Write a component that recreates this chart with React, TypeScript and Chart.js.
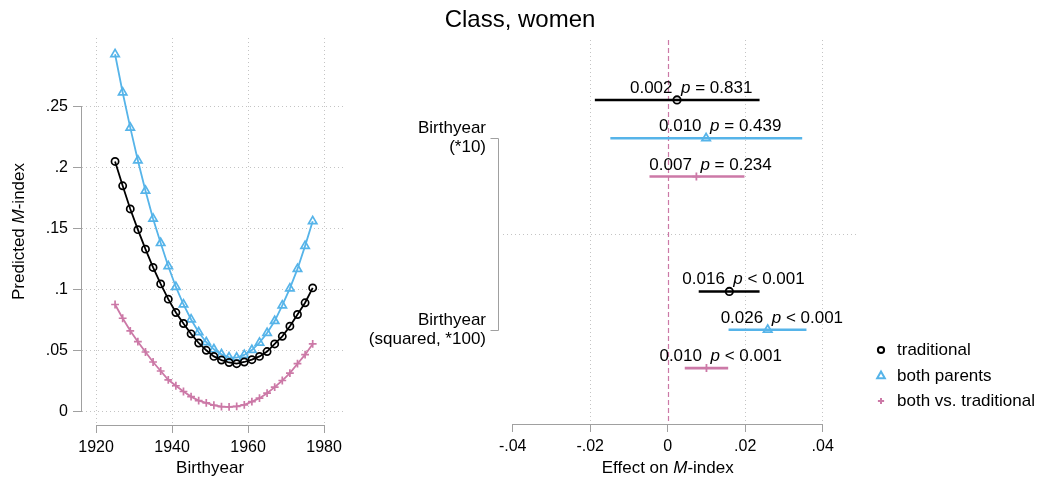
import React, { useEffect, useRef } from 'react';
import { Chart, registerables } from 'chart.js';

Chart.register(...registerables);

const FONT = '"Liberation Sans", Arial, Helvetica, sans-serif';
const BLACK = '#000000';
const BLUE = '#56B4E9';
const PINK = '#CC79A7';
const GRID = '#c4c4c4';
const AXIS = '#a0a0a0';

const chartTitle = 'Class, women';
const seriesNames = ['traditional', 'both parents', 'both vs. traditional'];

// ---- left panel: predicted M-index by birth year ----
const birthYears = [1925, 1927, 1929, 1931, 1933, 1935, 1937, 1939, 1941, 1943, 1945, 1947, 1949, 1951,
  1953, 1955, 1957, 1959, 1961, 1963, 1965, 1967, 1969, 1971, 1973, 1975, 1977];
const predTraditional = [0.205, 0.185, 0.166, 0.149, 0.133, 0.118, 0.1045, 0.092, 0.081, 0.072, 0.0635,
  0.056, 0.05, 0.045, 0.042, 0.04, 0.039, 0.0404, 0.0423, 0.045, 0.049, 0.0552, 0.0615, 0.0698, 0.0794,
  0.089, 0.1012];
const predBothParents = [0.293, 0.2616, 0.2327, 0.2058, 0.181, 0.158, 0.138, 0.119, 0.102, 0.0876, 0.0753,
  0.0648, 0.0566, 0.0508, 0.0467, 0.0442, 0.044, 0.0462, 0.0502, 0.0563, 0.0642, 0.074, 0.0868, 0.1008,
  0.1168, 0.1357, 0.156];
const predBothVsTraditional = [0.0876, 0.0763, 0.066, 0.0571, 0.0486, 0.0404, 0.033, 0.0258, 0.0209, 0.0162,
  0.012, 0.0087, 0.0068, 0.0049, 0.0038, 0.0035, 0.004, 0.0052, 0.0079, 0.0107, 0.0148, 0.0198, 0.0252,
  0.0313, 0.039, 0.0464, 0.0552];
const yearTicks = [1920, 1940, 1960, 1980];
const mIndexTicks = [0, 0.05, 0.1, 0.15, 0.2, 0.25];
const mIndexTickLabels = ['0', '.05', '.1', '.15', '.2', '.25'];

// ---- right panel: coefficients ----
const termLabels = [['Birthyear', '(*10)'], ['Birthyear', '(squared, *100)']];
const termRows = [1, 2];
const effectTicks = [-0.04, -0.02, 0, 0.02, 0.04];
const effectTickLabels = ['-.04', '-.02', '0', '.02', '.04'];

const coefTraditional = [0.0024, 0.0159];
const loTraditional = [-0.0188, 0.008];
const hiTraditional = [0.0237, 0.0237];
const pTraditional = ['= 0.831', '< 0.001'];

const coefBothParents = [0.0099, 0.0258];
const loBothParents = [-0.0148, 0.0157];
const hiBothParents = [0.0347, 0.0358];
const pBothParents = ['= 0.439', '< 0.001'];

const coefBothVsTraditional = [0.0074, 0.0100];
const loBothVsTraditional = [-0.0047, 0.0044];
const hiBothVsTraditional = [0.0198, 0.0156];
const pBothVsTraditional = ['= 0.234', '< 0.001'];

const colors = [BLACK, BLUE, PINK];
const styles = ['circle', 'triangle', 'cross'];
const ROW_OFFSET = [-0.2, 0, 0.2];

function drawMarker(ctx: CanvasRenderingContext2D, style: string, x: number, y: number, r: number, color: string, lw: number) {
  ctx.save();
  ctx.strokeStyle = color;
  ctx.lineWidth = lw;
  ctx.beginPath();
  if (style === 'circle') {
    ctx.arc(x, y, r, 0, Math.PI * 2);
  } else if (style === 'triangle') {
    for (let i = 0; i < 3; i++) {
      const a = (i * 2 * Math.PI) / 3;
      const px = x + Math.sin(a) * r;
      const py = y - Math.cos(a) * r;
      if (i === 0) ctx.moveTo(px, py); else ctx.lineTo(px, py);
    }
    ctx.closePath();
  } else {
    ctx.moveTo(x - r, y); ctx.lineTo(x + r, y);
    ctx.moveTo(x, y - r); ctx.lineTo(x, y + r);
  }
  ctx.stroke();
  ctx.restore();
}

const leftPlugin = {
  id: 'leftDecor',
  afterDraw(chart: any) {
    const { ctx, scales, chartArea } = chart;
    const x = scales.x, y = scales.y;
    ctx.save();
    ctx.strokeStyle = AXIS;
    ctx.lineWidth = 1;
    ctx.beginPath();
    const xb = Math.round(chartArea.bottom) + 0.5;
    ctx.moveTo(x.getPixelForValue(yearTicks[0]), xb);
    ctx.lineTo(x.getPixelForValue(yearTicks[yearTicks.length - 1]), xb);
    const yl = Math.round(chartArea.left) - 0.5;
    ctx.moveTo(yl, y.getPixelForValue(mIndexTicks[0]));
    ctx.lineTo(yl, y.getPixelForValue(mIndexTicks[mIndexTicks.length - 1]));
    ctx.stroke();
    // axis titles
    ctx.fillStyle = '#000';
    ctx.textBaseline = 'middle';
    ctx.font = `17px ${FONT}`;
    ctx.textAlign = 'center';
    ctx.fillText('Birthyear', (x.getPixelForValue(yearTicks[0]) + x.getPixelForValue(yearTicks[3])) / 2, 468);
    // y title with italic M
    ctx.translate(19, (chartArea.top + chartArea.bottom) / 2);
    ctx.rotate(-Math.PI / 2);
    const parts: [string, string][] = [['Predicted ', 'normal'], ['M', 'italic'], ['-index', 'normal']];
    let total = 0;
    for (const [t, s] of parts) { ctx.font = `${s} 17px ${FONT}`; total += ctx.measureText(t).width; }
    let cx = -total / 2;
    ctx.textAlign = 'left';
    for (const [t, s] of parts) {
      ctx.font = `${s} 17px ${FONT}`;
      ctx.fillText(t, cx, 0);
      cx += ctx.measureText(t).width;
    }
    ctx.restore();
  },
};

const coefSets = [
  { coef: coefTraditional, lo: loTraditional, hi: hiTraditional, p: pTraditional },
  { coef: coefBothParents, lo: loBothParents, hi: hiBothParents, p: pBothParents },
  { coef: coefBothVsTraditional, lo: loBothVsTraditional, hi: hiBothVsTraditional, p: pBothVsTraditional },
];

const rightPlugin = {
  id: 'rightDecor',
  beforeDatasetsDraw(chart: any) {
    const { ctx, scales, chartArea } = chart;
    const x = scales.x;
    ctx.save();
    ctx.strokeStyle = PINK;
    ctx.lineWidth = 1.2;
    ctx.setLineDash([5, 3]);
    const zx = Math.round(x.getPixelForValue(0)) + 0.5;
    ctx.beginPath();
    ctx.moveTo(zx, chartArea.top);
    ctx.lineTo(zx, chartArea.bottom);
    ctx.stroke();
    ctx.restore();
  },
  afterDraw(chart: any) {
    const { ctx, scales, chartArea } = chart;
    const x = scales.x, y = scales.y;
    ctx.save();
    // x axis line
    ctx.strokeStyle = AXIS;
    ctx.lineWidth = 1;
    ctx.beginPath();
    const xb = Math.round(chartArea.bottom) + 0.5;
    ctx.moveTo(x.getPixelForValue(effectTicks[0]), xb);
    ctx.lineTo(x.getPixelForValue(effectTicks[effectTicks.length - 1]), xb);
    // y bracket
    const bx = Math.round(chartArea.left) - 4.5;
    const y1 = Math.round(y.getPixelForValue(termRows[0])) + 0.5;
    const y2 = Math.round(y.getPixelForValue(termRows[1])) + 0.5;
    ctx.moveTo(bx - 8, y1); ctx.lineTo(bx, y1); ctx.lineTo(bx, y2); ctx.lineTo(bx - 8, y2);
    ctx.stroke();

    // value labels
    ctx.fillStyle = '#000';
    ctx.textBaseline = 'alphabetic';
    coefSets.forEach((s, si) => {
      termRows.forEach((row, ri) => {
        const px = x.getPixelForValue(s.coef[ri]);
        const py = y.getPixelForValue(row + ROW_OFFSET[si]);
        const by = py - 7;
        ctx.font = `17px ${FONT}`;
        ctx.textAlign = 'right';
        ctx.fillText(s.coef[ri].toFixed(3), px - 4.5, by);
        ctx.textAlign = 'left';
        ctx.font = `italic 17px ${FONT}`;
        ctx.fillText('p', px + 4, by);
        const w = ctx.measureText('p').width;
        ctx.font = `17px ${FONT}`;
        ctx.fillText(' ' + s.p[ri], px + 4 + w, by);
      });
    });

    // x axis title
    const parts: [string, string][] = [['Effect on ', 'normal'], ['M', 'italic'], ['-index', 'normal']];
    let total = 0;
    for (const [t, st] of parts) { ctx.font = `${st} 17px ${FONT}`; total += ctx.measureText(t).width; }
    let cx = x.getPixelForValue(0) - total / 2;
    ctx.textAlign = 'left';
    ctx.textBaseline = 'middle';
    for (const [t, st] of parts) {
      ctx.font = `${st} 17px ${FONT}`;
      ctx.fillText(t, cx, 468);
      cx += ctx.measureText(t).width;
    }

    // title
    ctx.font = `24px ${FONT}`;
    ctx.textAlign = 'center';
    ctx.fillText(chartTitle, 520 - 360, 20);

    // legend
    const lx = 521, tx = 537;
    const ly = [350, 376, 401];
    seriesNames.forEach((name, i) => {
      drawMarker(ctx, styles[i], lx, ly[i], i === 1 ? 4.4 : 3.1, colors[i], 2);
      ctx.fillStyle = '#000';
      ctx.font = `17px ${FONT}`;
      ctx.textAlign = 'left';
      ctx.textBaseline = 'middle';
      ctx.fillText(name, tx, ly[i]);
    });
    ctx.restore();
  },
};

export default function App() {
  const leftRef = useRef<HTMLCanvasElement>(null);
  const rightRef = useRef<HTMLCanvasElement>(null);

  useEffect(() => {
    Chart.defaults.font.family = FONT;
    Chart.defaults.color = '#000';

    const seriesData = [predTraditional, predBothParents, predBothVsTraditional];
    const leftDatasets = seriesData.map((vals, i) => ({
      label: seriesNames[i],
      data: birthYears.map((yr, k) => ({ x: yr, y: vals[k] })),
      showLine: true,
      borderColor: colors[i],
      borderWidth: 1.8,
      pointStyle: styles[i] as any,
      pointRadius: i === 1 ? 4.8 : i === 2 ? 3.9 : 3.6,
      pointBorderWidth: 1.7,
      pointBorderColor: colors[i],
      pointBackgroundColor: 'rgba(0,0,0,0)',
      tension: 0,
    }));

    const left = new Chart(leftRef.current!, {
      type: 'scatter',
      data: { datasets: leftDatasets as any },
      plugins: [leftPlugin],
      options: {
        animation: false,
        responsive: false,
        events: [],
        layout: { padding: { top: 38, right: 15, left: 0, bottom: 0 } },
        plugins: { legend: { display: false }, tooltip: { enabled: false }, title: { display: false } },
        scales: {
          x: {
            type: 'linear',
            min: 1916.3,
            max: 1985.5,
            afterBuildTicks: (s: any) => { s.ticks = yearTicks.map((v) => ({ value: v })); },
            afterFit: (s: any) => { s.height = 58; },
            ticks: { font: { size: 16 }, padding: 5, callback: (v: any) => String(v), maxRotation: 0 },
            grid: { color: GRID, lineWidth: 1, tickLength: 8, tickColor: AXIS, tickWidth: 1, tickBorderDash: [] },
            border: { display: false, dash: [1, 3] },
          },
          y: {
            type: 'linear',
            min: -0.0113,
            max: 0.3063,
            afterBuildTicks: (s: any) => { s.ticks = mIndexTicks.map((v) => ({ value: v })); },
            afterFit: (s: any) => { s.width = 82; },
            ticks: {
              font: { size: 16 },
              padding: 5,
              callback: (_v: any, idx: number) => mIndexTickLabels[idx],
            },
            grid: { color: GRID, lineWidth: 1, tickLength: 9, tickColor: AXIS, tickWidth: 1, tickBorderDash: [] },
            border: { display: false, dash: [1, 3] },
          },
        },
      },
    });

    const markerDatasets = coefSets.map((s, si) => ({
      label: seriesNames[si],
      data: termRows.map((row, ri) => ({ x: s.coef[ri], y: row + ROW_OFFSET[si] })),
      showLine: false,
      order: 0,
      pointStyle: styles[si] as any,
      pointRadius: si === 1 ? 4.8 : si === 2 ? 4 : 3.7,
      pointBorderWidth: 1.8,
      pointBorderColor: colors[si],
      pointBackgroundColor: 'rgba(0,0,0,0)',
    }));
    const ciDatasets: any[] = [];
    coefSets.forEach((s, si) => {
      termRows.forEach((row, ri) => {
        ciDatasets.push({
          label: seriesNames[si] + ' CI',
          data: [{ x: s.lo[ri], y: row + ROW_OFFSET[si] }, { x: s.hi[ri], y: row + ROW_OFFSET[si] }],
          showLine: true,
          order: 1,
          borderColor: colors[si],
          borderWidth: 2.6,
          pointRadius: 0,
        });
      });
    });

    const right = new Chart(rightRef.current!, {
      type: 'scatter',
      data: { datasets: [...markerDatasets, ...ciDatasets] as any },
      plugins: [rightPlugin],
      options: {
        animation: false,
        responsive: false,
        events: [],
        layout: { padding: { top: 40, right: 182, left: 0, bottom: 0 } },
        plugins: { legend: { display: false }, tooltip: { enabled: false }, title: { display: false } },
        scales: {
          x: {
            type: 'linear',
            min: -0.0425,
            max: 0.0491,
            afterBuildTicks: (s: any) => { s.ticks = effectTicks.map((v) => ({ value: v })); },
            afterFit: (s: any) => { s.height = 59; },
            ticks: { font: { size: 16 }, padding: 5, maxRotation: 0, callback: (_v: any, idx: number) => effectTickLabels[idx] },
            grid: {
              color: (c: any) => (c.tick && (c.tick.value === 0 || c.tick.value === effectTicks[0]) ? 'rgba(0,0,0,0)' : GRID),
              lineWidth: 1,
              tickLength: 8,
              tickColor: AXIS,
              tickWidth: 1,
              tickBorderDash: [],
            },
            border: { display: false, dash: [1, 3] },
          },
          y: {
            type: 'linear',
            reverse: true,
            min: 0.487,
            max: 2.492,
            afterBuildTicks: (s: any) => { s.ticks = [termRows[0], (termRows[0] + termRows[1]) / 2, termRows[1]].map((v) => ({ value: v })); },
            afterFit: (s: any) => { s.width = 143; },
            ticks: {
              font: { size: 17, lineHeight: 1.12 },
              padding: 17,
              callback: (_v: any, idx: number) => (idx === 0 ? termLabels[0] : idx === 2 ? termLabels[1] : ''),
            },
            grid: {
              drawTicks: false,
              color: (c: any) => (c.tick && c.tick.value === 1.5 ? GRID : 'rgba(0,0,0,0)'),
              lineWidth: 1,
            },
            border: { display: false, dash: [1, 3] },
          },
        },
      },
    });

    return () => { left.destroy(); right.destroy(); };
  }, []);

  return (
    <div style={{ position: 'absolute', left: 0, top: 0, width: 1040, height: 483, background: '#fff' }}>
      <canvas ref={leftRef} width={360} height={483} style={{ position: 'absolute', left: 0, top: 0 }} />
      <canvas ref={rightRef} width={680} height={483} style={{ position: 'absolute', left: 360, top: 0 }} />
    </div>
  );
}
